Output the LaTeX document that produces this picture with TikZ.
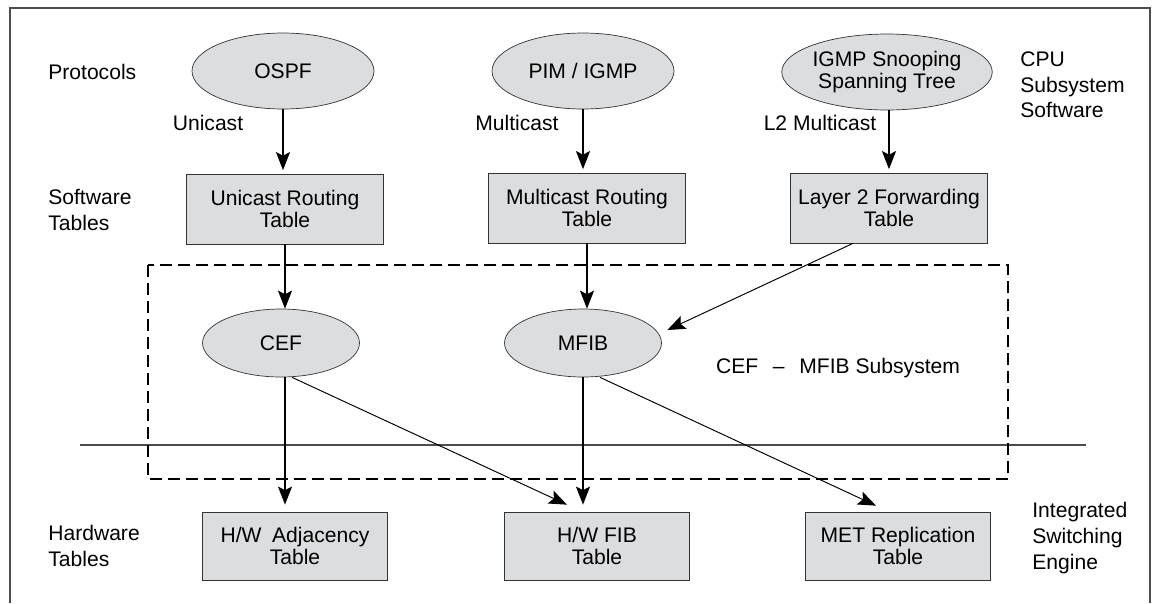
\documentclass[tikz,border=0pt]{standalone}
\usepackage{fontspec}
\setmainfont{Liberation Sans}
\usetikzlibrary{arrows.meta,positioning,shapes.geometric}
\definecolor{tablegray}{RGB}{220,221,223}

\begin{document}
\begin{tikzpicture}[x=0.02cm, y=-0.02cm,
every node/.style = {font=\fontsize{12}{12.2}\selectfont, align=center},
proto/.style = {ellipse, draw=black!80, fill=tablegray, inner sep=0pt,
	minimum width=3.64cm, minimum height=1.52cm},
fwd/.style = {ellipse, draw=black!80, fill=tablegray, inner sep=0pt,
	minimum width=3.14cm, minimum height=1.36cm},
swtable/.style = {rectangle, draw=black!80, fill=tablegray, inner sep=0pt,
	minimum width=3.94cm, minimum height=1.4cm},
hwtable/.style = {rectangle, draw=black!80, fill=tablegray, inner sep=0pt,
	minimum width=3.7cm, minimum height=1.36cm},
side/.style = {anchor=west, align=left, inner sep=0pt, font=\fontsize{12}{14.6}\selectfont},
flow/.style = {-{Stealth[length=0.36cm,width=0.28cm,inset=0.07cm]}, line width=0.8pt},
diag/.style = {flow, line width=0.55pt}]
\useasboundingbox (0,0) rectangle (1153,603);
\draw[black!70, line width=0.6pt] (10,603) -- (10,8) -- (1150,8) -- (1150,603);

\node[side] (protocols) at (48,72) {Protocols};
\node[side] (swtables) at (48,210) {Software\\Tables};
\node[side] (hwtables) at (48,546) {Hardware\\Tables};
\node[side] (cpu) at (1020,85) {CPU\\Subsystem\\Software};
\node[side] (engine) at (1032,538) {Integrated\\Switching\\Engine};

\node[proto] (ospf) at (283,71) {OSPF};
\node[proto] (pim) at (583,71) {PIM / IGMP};
\node[proto] (snoop) at (887,72) {IGMP Snooping\\Spanning Tree};

\node (unicast) at (208,123) {Unicast};
\node (multicast) at (517,123) {Multicast};
\node (l2multicast) at (820,123) {L2 Multicast};

\node[swtable] (urt) at (285,209) {Unicast Routing\\Table};
\node[swtable] (mrt) at (587,208) {Multicast Routing\\Table};
\node[swtable] (l2fwd) at (889,208) {Layer 2 Forwarding\\Table};

\draw[black!70, line width=0.6pt] (80,445) -- (1086,445);
\draw[dash pattern=on 0.24cm off 0.12cm, line width=1.1pt] (148,265) rectangle (1008,479);
\node (subsys) at (838,368) {CEF\hspace{0.7em}–\hspace{0.7em}MFIB Subsystem};

\node[fwd] (cef) at (281,343) {CEF};
\node[fwd] (mfib) at (583,343) {MFIB};

\node[hwtable] (adj) at (295,546) {H/W\enspace Adjacency\\Table};
\node[hwtable] (fib) at (597,546) {H/W FIB\\Table};
\node[hwtable] (met) at (898,546) {MET Replication\\Table};

\draw[flow, shorten >=2pt] (ospf.south) -- (ospf.south |- urt.north);
\draw[flow, shorten >=2pt] (pim.south) -- (pim.south |- mrt.north);
\draw[flow, shorten >=2pt] (l2fwd.south |- snoop.south) -- (l2fwd.north);
\draw[flow] (urt.south) -- (urt.south |- cef.north);
\draw[flow] (mrt.south) -- (mrt.south |- mfib.north);
\draw[diag] ([xshift=-0.72cm]l2fwd.south) -- ([xshift=0.11cm,yshift=0.26cm]mfib.east);
\draw[flow, shorten >=4pt] (urt.south |- cef.south) -- (urt.south |- adj.north);
\draw[flow, shorten >=4pt] (mfib.south) -- (mfib.south |- fib.north);
\draw[diag] ([xshift=0.22cm]cef.south) -- ([xshift=-0.6cm,yshift=0.14cm]fib.north);
\draw[diag] ([xshift=0.34cm]mfib.south) -- ([xshift=-0.44cm,yshift=0.12cm]met.north);
\end{tikzpicture}
\end{document}
